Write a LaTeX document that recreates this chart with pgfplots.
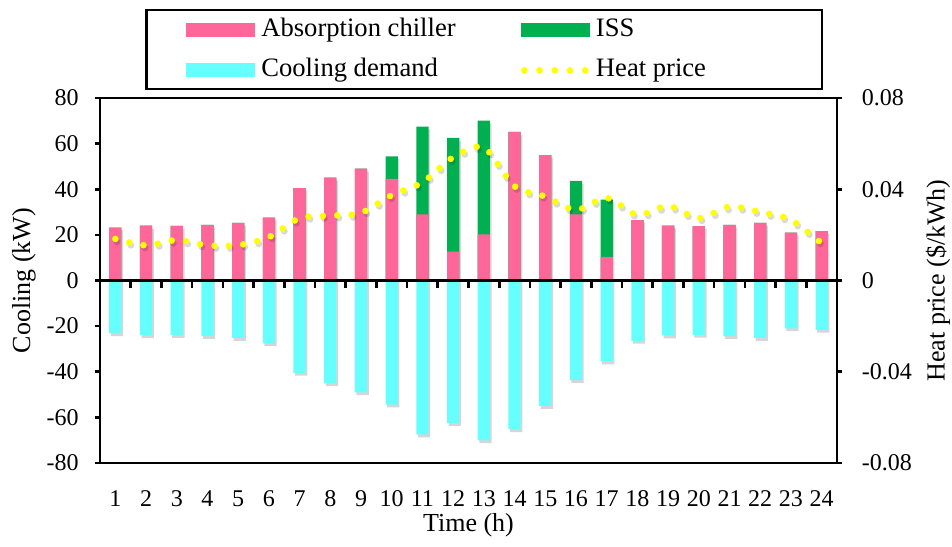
\documentclass[border=0pt]{standalone}
\usepackage{fontspec}
\setmainfont{Liberation Serif}
\usepackage{pgfplots}
\pgfplotsset{compat=1.18}
\usepackage{pgfplotstable}

\definecolor{chiller}{RGB}{255,102,153}
\definecolor{iss}{RGB}{0,176,80}
\definecolor{demand}{RGB}{102,255,255}
\definecolor{price}{RGB}{255,255,0}

% hourly cooling balance (kW) and heat price ($/kWh)
\pgfplotstableread{
hour chiller iss  demand price
1    23.2    0    -23.2  0.0182
2    24.0    0    -24.0  0.0154
3    23.9    0    -23.9  0.0177
4    24.4    0    -24.4  0.0154
5    25.2    0    -25.2  0.0155
6    27.6    0    -27.6  0.0190
7    40.5    0    -40.5  0.0273
8    45.1    0    -45.1  0.0284
9    49.0    0    -49.0  0.0296
10   44.5    9.9  -54.4  0.0374
11   29.0    38.5 -67.5  0.0430
12   12.7    49.8 -62.5  0.0540
13   20.2    49.9 -70.1  0.0582
14   65.2    0    -65.2  0.0413
15   55.0    0    -55.0  0.0368
16   29.0    14.7 -43.7  0.0309
17   10.3    25.2 -35.5  0.0362
18   26.5    0    -26.5  0.0287
19   24.1    0    -24.1  0.0327
20   23.8    0    -23.8  0.0273
21   24.4    0    -24.4  0.0324
22   25.2    0    -25.2  0.0300
23   21.0    0    -21.0  0.0265
24   21.6    0    -21.6  0.0163
}\data

\pgfplotsset{
  common/.style={
    scale only axis, width=368.5bp, height=182.5bp,
    xmin=0.5, xmax=24.5,
    axis line style={line width=1.3bp},
    every tick/.style={black, line width=1.3bp},
    major tick length=2.5bp,
    /pgf/number format/assume math mode=true,
    tick label style={font=\fontsize{12bp}{14bp}\selectfont},
    label style={font=\fontsize{13bp}{15bp}\selectfont},
  },
  shadow/.style={fill=black, draw=none, opacity=0.16, xshift=0.8bp, yshift=-1.4bp, forget plot},
}

\begin{document}
\begin{tikzpicture}
\begin{axis}[common, name=main, clip=false,
  ymin=-80, ymax=80,
  ybar, bar width=0.4, bar shift=0pt,
  xtick={1,...,24}, xtick style={draw=none}, xtick pos=bottom,
  xticklabel style={anchor=base, inner sep=0pt, yshift=-19.5bp},
  ytick={-80,-60,...,80}, ytick pos=left, ytick align=outside,
  yticklabel style={anchor=east, inner sep=0pt, xshift=-8bp},
  xlabel={Time (h)},
  xlabel style={at={(axis description cs:0.5,-0.1699)}, anchor=center},
  ylabel={Cooling (kW)},
  ylabel style={at={(axis description cs:-0.1031,0.5)}, anchor=center},
]
% soft drop shadows under the bars
\addplot[shadow] table[x=hour, y expr=\thisrow{chiller}+\thisrow{iss}]{\data};
\addplot[shadow] table[x=hour, y=demand]{\data};
% ISS on top of the absorption chiller: green to the total, pink over it
\addplot[fill=iss, draw=none] table[x=hour, y expr=\thisrow{chiller}+\thisrow{iss}]{\data};
\addplot[fill=chiller, draw=none] table[x=hour, y=chiller]{\data};
\addplot[fill=demand, draw=none] table[x=hour, y=demand]{\data};
% horizontal axis through zero, with separators between the hours
\draw[black, line width=1.3bp] (axis cs:0.5,0) -- (axis cs:24.5,0);
\draw[black, line width=1.3bp]
  (axis cs:1.5,0) -- (axis cs:1.5,-3.1)   (axis cs:2.5,0) -- (axis cs:2.5,-3.1)
  (axis cs:3.5,0) -- (axis cs:3.5,-3.1)   (axis cs:4.5,0) -- (axis cs:4.5,-3.1)
  (axis cs:5.5,0) -- (axis cs:5.5,-3.1)   (axis cs:6.5,0) -- (axis cs:6.5,-3.1)
  (axis cs:7.5,0) -- (axis cs:7.5,-3.1)   (axis cs:8.5,0) -- (axis cs:8.5,-3.1)
  (axis cs:9.5,0) -- (axis cs:9.5,-3.1)   (axis cs:10.5,0) -- (axis cs:10.5,-3.1)
  (axis cs:11.5,0) -- (axis cs:11.5,-3.1) (axis cs:12.5,0) -- (axis cs:12.5,-3.1)
  (axis cs:13.5,0) -- (axis cs:13.5,-3.1) (axis cs:14.5,0) -- (axis cs:14.5,-3.1)
  (axis cs:15.5,0) -- (axis cs:15.5,-3.1) (axis cs:16.5,0) -- (axis cs:16.5,-3.1)
  (axis cs:17.5,0) -- (axis cs:17.5,-3.1) (axis cs:18.5,0) -- (axis cs:18.5,-3.1)
  (axis cs:19.5,0) -- (axis cs:19.5,-3.1) (axis cs:20.5,0) -- (axis cs:20.5,-3.1)
  (axis cs:21.5,0) -- (axis cs:21.5,-3.1) (axis cs:22.5,0) -- (axis cs:22.5,-3.1)
  (axis cs:23.5,0) -- (axis cs:23.5,-3.1);
\end{axis}

% lower half: its top edge is the zero line, ticks point down between the hours
\begin{axis}[scale only axis, width=368.5bp, height=91.25bp,
  at={(main.west)}, anchor=north west,
  xmin=0.5, xmax=24.5, ymin=-80, ymax=0,
  axis x line*=top, axis y line=none,
  axis line style={line width=1.3bp},
  xtick={1.5,2.5,...,23.5}, xticklabels={},
  xtick align=inside, major tick length=3bp,
  every tick/.style={black, line width=1.3bp},
]
\end{axis}

\begin{axis}[common,
  ymin=-0.08, ymax=0.08,
  axis x line=none, axis y line*=right,
  ytick={-0.08,-0.04,0,0.04,0.08}, ytick align=outside,
  scaled y ticks=false,
  yticklabel style={anchor=west, inner sep=0pt, xshift=9.75bp,
    /pgf/number format/fixed, /pgf/number format/precision=2},
  ylabel={Heat price (\$/kWh)},
  ylabel style={at={(axis description cs:1.137,0.5)}, anchor=center, rotate=0},
  legend columns=2,
  legend style={draw=none, fill=none, inner sep=0pt, column sep=0pt, row sep=8bp,
    at={(axis description cs:0.11669,1.21918)}, anchor=north west,
    nodes={inner sep=0pt, text height=9bp, text depth=3bp, anchor=west,
      font=\fontsize{13.3bp}{15bp}\selectfont}},
  legend cell align=left,
]
\addlegendimage{legend image code/.code={
  \fill[chiller] (0bp,-3.25bp) rectangle (34bp,3.25bp);
  \path[draw=none, fill=none] (0bp,0bp) -- (37.3bp,0bp);}}
\addlegendentry{\makebox[129.8bp][l]{Absorption chiller}}
\addlegendimage{legend image code/.code={
  \fill[iss] (0bp,-3.25bp) rectangle (34bp,3.25bp);
  \path[draw=none, fill=none] (0bp,0bp) -- (37.3bp,0bp);}}
\addlegendentry{ISS}
\addlegendimage{legend image code/.code={
  \fill[demand] (0bp,-3.25bp) rectangle (34bp,3.25bp);
  \path[draw=none, fill=none] (0bp,0bp) -- (37.3bp,0bp);}}
\addlegendentry{Cooling demand}
% shadow of the dotted price curve
\addplot[black, opacity=0.15, line width=3.4bp, line cap=round,
  dash pattern=on 0pt off 7.2bp, smooth, tension=0.5,
  xshift=0.8bp, yshift=-1.4bp, forget plot]
  table[x=hour, y=price]{\data};
\addplot[price, line width=3.3bp, line cap=round, dash pattern=on 0pt off 7.2bp,
  smooth, tension=0.5,
  legend image code/.code={
    \draw[price, line width=3.3bp, line cap=round, dash pattern=on 0pt off 7.6bp]
      (1.5bp,0bp) -- (32.5bp,0bp);
    \path[draw=none, fill=none] (0bp,0bp) -- (37.3bp,0bp);}]
  table[x=hour, y=price]{\data};
\addlegendentry{Heat price}
\end{axis}

% legend frame
\draw[line width=1.3bp]
  ([shift={(23.3bp,4.5bp)}]main.north west) rectangle ([shift={(361bp,44bp)}]main.north west);

\pgfresetboundingbox
\path ([shift={(-50bp,-42bp)}]main.south west) rectangle ([shift={(57.5bp,49bp)}]main.north east);
\end{tikzpicture}
\end{document}
